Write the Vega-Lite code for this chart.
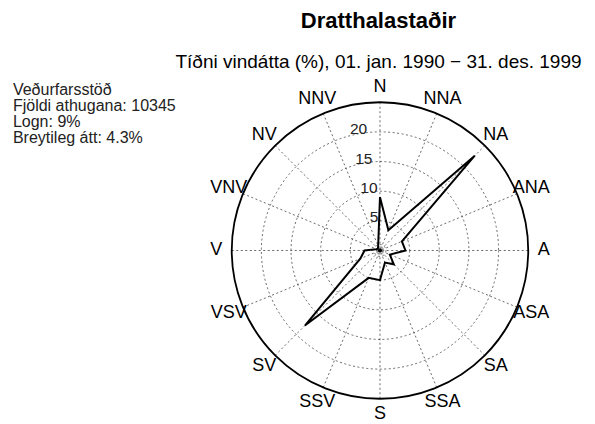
{
  "$schema": "https://vega.github.io/schema/vega-lite/v6.json",
  "width": 595,
  "height": 352,
  "autosize": {"type": "none"},
  "padding": {"left": 0, "top": 72, "right": 0, "bottom": 0},
  "background": "white",
  "config": {"view": {"stroke": null}, "font": "Liberation Sans"},
  "title": {
    "text": "Dratthalastaðir",
    "subtitle": "Tíðni vindátta (%), 01. jan. 1990 − 31. des. 1999",
    "anchor": "middle",
    "frame": "group",
    "dx": 81,
    "offset": -1,
    "font": "Liberation Sans",
    "fontSize": 22,
    "fontWeight": "bold",
    "color": "black",
    "subtitleFont": "Liberation Sans",
    "subtitleFontSize": 19,
    "subtitleColor": "black",
    "subtitlePadding": 20
  },
  "datasets": {
    "dirs": [
      {"d": "N", "deg": 0, "v": 9.0},
      {"d": "NNA", "deg": 22.5, "v": 3.7},
      {"d": "NA", "deg": 45, "v": 22.6},
      {"d": "ANA", "deg": 67.5, "v": 4.0},
      {"d": "A", "deg": 90, "v": 4.3},
      {"d": "ASA", "deg": 112.5, "v": 1.8},
      {"d": "SA", "deg": 135, "v": 3.3},
      {"d": "SSA", "deg": 157.5, "v": 2.2},
      {"d": "S", "deg": 180, "v": 5.0},
      {"d": "SSV", "deg": 202.5, "v": 5.0},
      {"d": "SV", "deg": 225, "v": 17.9},
      {"d": "VSV", "deg": 247.5, "v": 3.6},
      {"d": "V", "deg": 270, "v": 2.6},
      {"d": "VNV", "deg": 292.5, "v": 0.6},
      {"d": "NV", "deg": 315, "v": 0.5},
      {"d": "NNV", "deg": 337.5, "v": 0.8}
    ],
    "poly": [
      {"d": "N", "deg": 0, "v": 9.0, "i": 0},
      {"d": "NNA", "deg": 22.5, "v": 3.7, "i": 1},
      {"d": "NA", "deg": 45, "v": 22.6, "i": 2},
      {"d": "ANA", "deg": 67.5, "v": 4.0, "i": 3},
      {"d": "A", "deg": 90, "v": 4.3, "i": 4},
      {"d": "ASA", "deg": 112.5, "v": 1.8, "i": 5},
      {"d": "SA", "deg": 135, "v": 3.3, "i": 6},
      {"d": "SSA", "deg": 157.5, "v": 2.2, "i": 7},
      {"d": "S", "deg": 180, "v": 5.0, "i": 8},
      {"d": "SSV", "deg": 202.5, "v": 5.0, "i": 9},
      {"d": "SV", "deg": 225, "v": 17.9, "i": 10},
      {"d": "VSV", "deg": 247.5, "v": 3.6, "i": 11},
      {"d": "V", "deg": 270, "v": 2.6, "i": 12},
      {"d": "VNV", "deg": 292.5, "v": 0.6, "i": 13},
      {"d": "NV", "deg": 315, "v": 0.5, "i": 14},
      {"d": "NNV", "deg": 337.5, "v": 0.8, "i": 15},
      {"d": "N", "deg": 360, "v": 9.0, "i": 16}
    ],
    "rings": [
      {"r": 1}, {"r": 5}, {"r": 10}, {"r": 15}, {"r": 20}
    ],
    "ringlabels": [
      {"r": 5}, {"r": 10}, {"r": 15}, {"r": 20}
    ],
    "info": [
      {"t": "Veðurfarsstöð\nFjöldi athugana: 10345\nLogn: 9%\nBreytileg átt: 4.3%"}
    ]
  },
  "layer": [
    {
      "data": {"name": "dirs"},
      "transform": [
        {"calculate": "25*sin(datum.deg*PI/180)", "as": "sx"},
        {"calculate": "25*cos(datum.deg*PI/180)", "as": "sy"}
      ],
      "mark": {"type": "rule", "stroke": "#444444", "strokeWidth": 0.8, "strokeDash": [2, 2.5]},
      "encoding": {
        "x": {"field": "sx", "type": "quantitative", "scale": {"domain": [-64.08, 36.26], "nice": false, "zero": false}, "axis": null},
        "y": {"field": "sy", "type": "quantitative", "scale": {"domain": [-29.26, 30.10], "nice": false, "zero": false}, "axis": null},
        "x2": {"datum": 0},
        "y2": {"datum": 0}
      }
    },
    {
      "data": {"name": "rings"},
      "mark": {"type": "point", "shape": "circle", "filled": false, "opacity": 1, "stroke": "#444444", "strokeWidth": 0.8, "strokeDash": [2, 2.5]},
      "encoding": {
        "x": {"datum": 0, "type": "quantitative", "scale": {"domain": [-64.08, 36.26], "nice": false, "zero": false}, "axis": null},
        "y": {"datum": 0, "type": "quantitative", "scale": {"domain": [-29.26, 30.10], "nice": false, "zero": false}, "axis": null},
        "size": {"field": "r", "type": "quantitative", "scale": {"type": "pow", "exponent": 2, "domain": [0, 25], "range": [0, 87912]}, "legend": null}
      }
    },
    {
      "data": {"values": [{"r": 25}]},
      "mark": {"type": "point", "shape": "circle", "filled": false, "opacity": 1, "stroke": "black", "strokeWidth": 1.8},
      "encoding": {
        "x": {"datum": 0, "type": "quantitative", "scale": {"domain": [-64.08, 36.26], "nice": false, "zero": false}, "axis": null},
        "y": {"datum": 0, "type": "quantitative", "scale": {"domain": [-29.26, 30.10], "nice": false, "zero": false}, "axis": null},
        "size": {"field": "r", "type": "quantitative", "scale": {"type": "pow", "exponent": 2, "domain": [0, 25], "range": [0, 87912]}, "legend": null}
      }
    },
    {
      "data": {"name": "poly"},
      "transform": [
        {"calculate": "datum.v*sin(datum.deg*PI/180)", "as": "px"},
        {"calculate": "datum.v*cos(datum.deg*PI/180)", "as": "py"}
      ],
      "mark": {"type": "line", "color": "black", "strokeWidth": 2, "strokeJoin": "miter"},
      "encoding": {
        "x": {"field": "px", "type": "quantitative", "scale": {"domain": [-64.08, 36.26], "nice": false, "zero": false}, "axis": null},
        "y": {"field": "py", "type": "quantitative", "scale": {"domain": [-29.26, 30.10], "nice": false, "zero": false}, "axis": null},
        "order": {"field": "i", "type": "quantitative"}
      }
    },
    {
      "data": {"values": [{"c": "center"}]},
      "mark": {"type": "point", "shape": "circle", "filled": true, "color": "black", "size": 18, "opacity": 1},
      "encoding": {
        "x": {"datum": 0, "type": "quantitative", "scale": {"domain": [-64.08, 36.26], "nice": false, "zero": false}, "axis": null},
        "y": {"datum": 0, "type": "quantitative", "scale": {"domain": [-29.26, 30.10], "nice": false, "zero": false}, "axis": null}
      }
    },
    {
      "data": {"name": "dirs"},
      "transform": [
        {"calculate": "27.6*sin(datum.deg*PI/180)", "as": "lx"},
        {"calculate": "27.6*cos(datum.deg*PI/180)", "as": "ly"}
      ],
      "mark": {"type": "text", "font": "Liberation Sans", "fontSize": 18, "color": "black", "align": "center", "baseline": "middle"},
      "encoding": {
        "x": {"field": "lx", "type": "quantitative", "scale": {"domain": [-64.08, 36.26], "nice": false, "zero": false}, "axis": null},
        "y": {"field": "ly", "type": "quantitative", "scale": {"domain": [-29.26, 30.10], "nice": false, "zero": false}, "axis": null},
        "text": {"field": "d"}
      }
    },
    {
      "data": {"name": "ringlabels"},
      "transform": [
        {"calculate": "(datum.r+0.75)*sin(-10*PI/180)", "as": "lx"},
        {"calculate": "(datum.r+0.75)*cos(-10*PI/180)", "as": "ly"}
      ],
      "mark": {"type": "text", "font": "Liberation Sans", "fontSize": 15.5, "color": "#222222", "align": "center", "baseline": "middle"},
      "encoding": {
        "x": {"field": "lx", "type": "quantitative", "scale": {"domain": [-64.08, 36.26], "nice": false, "zero": false}, "axis": null},
        "y": {"field": "ly", "type": "quantitative", "scale": {"domain": [-29.26, 30.10], "nice": false, "zero": false}, "axis": null},
        "text": {"field": "r"}
      }
    },
    {
      "data": {"name": "info"},
      "mark": {"type": "text", "font": "Liberation Sans", "fontSize": 16, "color": "#222222", "align": "left", "baseline": "alphabetic", "lineBreak": "\n", "lineHeight": 16},
      "encoding": {
        "x": {"datum": -61.9, "type": "quantitative", "scale": {"domain": [-64.08, 36.26], "nice": false, "zero": false}, "axis": null},
        "y": {"datum": 26.22, "type": "quantitative", "scale": {"domain": [-29.26, 30.10], "nice": false, "zero": false}, "axis": null},
        "text": {"field": "t"}
      }
    }
  ]
}
